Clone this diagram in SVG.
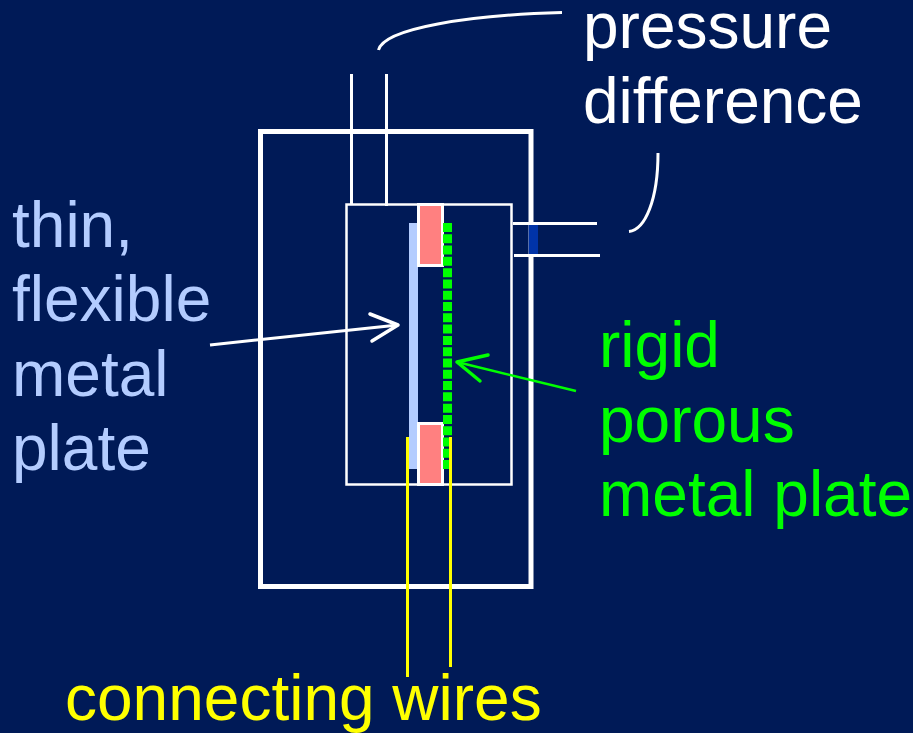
<svg xmlns="http://www.w3.org/2000/svg" width="913" height="733" viewBox="0 0 913 733">
<style>
.t{font-family:"Liberation Sans",Arial,sans-serif;font-size:64px}
.w{fill:none;stroke:#fff;stroke-width:3}
</style>
<rect width="913" height="733" fill="#001a57"/>
<g id="outer-box"><rect x="260.500" y="131.500" width="270.500" height="455" fill="none" stroke="#fff" stroke-width="5"/></g>
<g id="inner-box"><rect x="346.500" y="204.500" width="165" height="280" fill="none" stroke="#fff" stroke-width="2.500"/></g>
<g id="flexible-plate"><rect x="409" y="223" width="9" height="246" fill="#b3ccff"/></g>
<g id="spacer-top"><rect x="418.500" y="204.500" width="24" height="61" fill="#ff8080" stroke="#fff" stroke-width="3"/></g>
<g id="spacer-bottom"><rect x="418.500" y="423.500" width="24" height="61" fill="#ff8080" stroke="#fff" stroke-width="3"/></g>
<g id="porous-plate"><line x1="447.500" y1="223" x2="447.500" y2="469" stroke="#00ff00" stroke-width="9" stroke-dasharray="9 2.290"/></g>
<g id="port"><rect x="528.700" y="225" width="9.300" height="30" fill="#0033a8"/></g>
<g id="connectors">
<line class="w" x1="351.500" y1="74" x2="351.500" y2="204"/>
<line class="w" x1="386.500" y1="74" x2="386.500" y2="206"/>
<line class="w" x1="513" y1="223.500" x2="597" y2="223.500"/>
<line class="w" x1="514" y1="255.500" x2="600" y2="255.500"/>
<path class="w" d="M378.500 50C384 28 470 15 562 12.500"/>
<path class="w" d="M629 231.500C645 230 658 200 658 153"/>
<path class="w" d="M210 345L398 325"/>
<path class="w" stroke-linecap="round" stroke-linejoin="round" style="stroke-width:3.500" d="M370 314L398 325L372 341"/>
<path d="M576 391L457 362" fill="none" stroke="#00ff00" stroke-width="2.500"/>
<path d="M488 355L457 362L480 381" fill="none" stroke="#00ff00" stroke-width="3.500" stroke-linecap="round" stroke-linejoin="round"/>
<line x1="407.500" y1="437" x2="407.500" y2="677" stroke="#ffff00" stroke-width="3"/>
<line x1="450.500" y1="437" x2="450.500" y2="667" stroke="#ffff00" stroke-width="3"/>
</g>
<g id="label-pressure" class="t" fill="#fff"><text x="583" y="48">pressure</text><text x="583" y="123">difference</text></g>
<g id="label-flexible" class="t" fill="#b3ccff"><text x="12" y="247">thin,</text><text x="12" y="321">flexible</text><text x="12" y="396">metal</text><text x="12" y="470">plate</text></g>
<g id="label-rigid" class="t" fill="#00ff00"><text x="599" y="367">rigid</text><text x="599" y="442">porous</text><text x="599" y="516">metal plate</text></g>
<g id="label-wires" class="t" fill="#ffff00"><text x="65" y="720">connecting wires</text></g>
</svg>
